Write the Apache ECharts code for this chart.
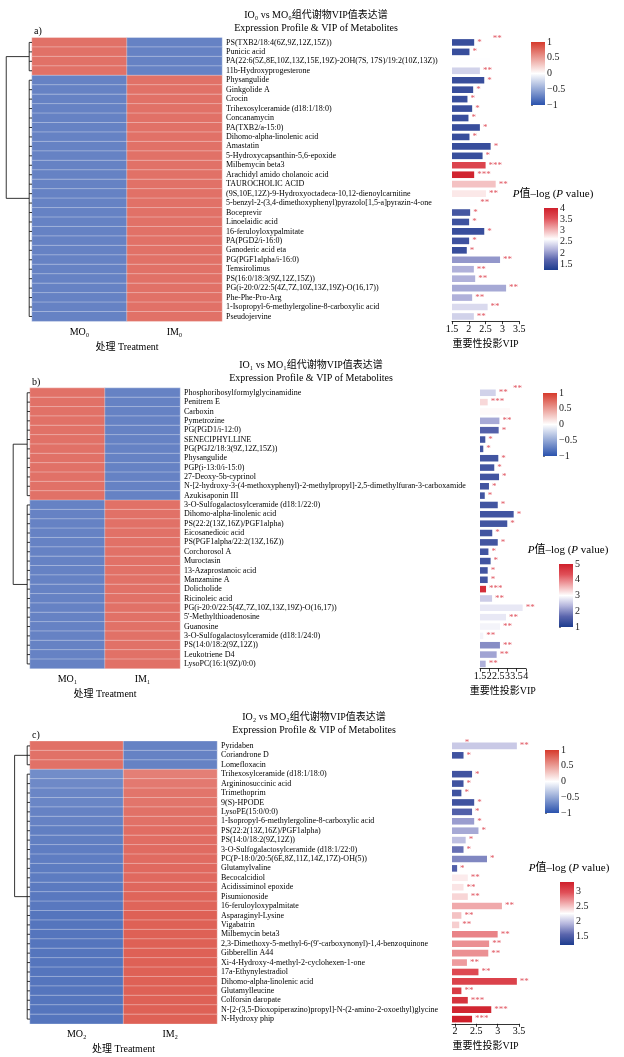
<!DOCTYPE html>
<html><head><meta charset="utf-8">
<script src="https://cdn.jsdelivr.net/npm/echarts@6/dist/echarts.min.js"></script>
<style>html,body{margin:0;padding:0;background:#fff}#c{width:624px;height:1057px}</style>
</head><body><div id="c"></div><script>
// ---------------- DATA ----------------
const colsA = ['MO₀', 'IM₀'];
const colsB = ['MO₁', 'IM₁'];
const colsC = ['MO₂', 'IM₂'];

const namesA = ['PS(TXB2/18:4(6Z,9Z,12Z,15Z))','Punicic acid','PA(22:6(5Z,8E,10Z,13Z,15E,19Z)-2OH(7S, 17S)/19:2(10Z,13Z))','11b-Hydroxyprogesterone','Physangulide','Ginkgolide A','Crocin','Trihexosylceramide (d18:1/18:0)','Concanamycin','PA(TXB2/a-15:0)','Dihomo-alpha-linolenic acid','Amastatin','5-Hydroxycapsanthin-5,6-epoxide','Milbemycin beta3','Arachidyl amido cholanoic acid','TAUROCHOLIC ACID','(9S,10E,12Z)-9-Hydroxyoctadeca-10,12-dienoylcarnitine','5-benzyl-2-(3,4-dimethoxyphenyl)pyrazolo[1,5-a]pyrazin-4-one','Boceprevir','Linoelaidic acid','16-feruloyloxypalmitate','PA(PGD2/i-16:0)','Ganoderic acid eta','PG(PGF1alpha/i-16:0)','Temsirolimus','PS(16:0/18:3(9Z,12Z,15Z))','PG(i-20:0/22:5(4Z,7Z,10Z,13Z,19Z)-O(16,17))','Phe-Phe-Pro-Arg','1-Isopropyl-6-methylergoline-8-carboxylic acid','Pseudojervine'];
const heatMO_A = [0.72,0.72,0.72,0.72,-0.72,-0.72,-0.72,-0.72,-0.72,-0.72,-0.72,-0.72,-0.72,-0.72,-0.72,-0.72,-0.72,-0.72,-0.72,-0.72,-0.72,-0.72,-0.72,-0.72,-0.72,-0.72,-0.72,-0.72,-0.72,-0.72];
const heatIM_A = [-0.72,-0.72,-0.72,-0.72,0.72,0.72,0.72,0.72,0.72,0.72,0.72,0.72,0.72,0.72,0.72,0.72,0.72,0.72,0.72,0.72,0.72,0.72,0.72,0.72,0.72,0.72,0.72,0.72,0.72,0.72];
const vipA = [2.16,2.02,2.62,2.33,2.46,2.13,1.96,2.10,1.99,2.33,2.02,2.65,2.41,2.50,2.16,2.80,2.51,2.25,2.04,2.01,2.46,2.01,1.94,2.93,2.15,2.19,3.11,2.10,2.56,2.15];
const pA   = [1.45,1.45,2.62,2.35,1.45,1.45,1.45,1.45,1.45,1.45,1.45,1.45,1.45,3.65,3.95,2.95,2.75,2.62,1.55,1.5,1.45,1.5,1.45,2.0,2.15,2.15,2.1,2.15,2.4,2.35];
const starsA = ['*','*','**','**','*','*','*','*','*','*','*','*','*','***','***','**','**','**','*','*','*','*','*','**','**','**','**','**','**','**'];
const treeA = [4, 0.92, 0.1, 0.1];

const namesB = ['Phosphoribosylformylglycinamidine','Penitrem E','Carboxin','Pymetrozine','PG(PGD1/i-12:0)','SENECIPHYLLINE','PG(PGJ2/18:3(9Z,12Z,15Z))','Physangulide','PGP(i-13:0/i-15:0)','27-Deoxy-5b-cyprinol','N-[2-hydroxy-3-(4-methoxyphenyl)-2-methylpropyl]-2,5-dimethylfuran-3-carboxamide','Azukisaponin III','3-O-Sulfogalactosylceramide (d18:1/22:0)','Dihomo-alpha-linolenic acid','PS(22:2(13Z,16Z)/PGF1alpha)','Eicosanedioic acid','PS(PGF1alpha/22:2(13Z,16Z))','Corchorosol A','Muroctasin','13-Azaprostanoic acid','Manzamine A','Dolicholide','Ricinoleic acid','PG(i-20:0/22:5(4Z,7Z,10Z,13Z,19Z)-O(16,17))',"5'-Methylthioadenosine",'Guanosine','3-O-Sulfogalactosylceramide (d18:1/24:0)','PS(14:0/18:2(9Z,12Z))','Leukotriene D4','LysoPC(16:1(9Z)/0:0)'];
const heatMO_B = [0.72,0.72,0.72,0.72,0.72,0.72,0.72,0.72,0.72,0.72,0.72,0.72,-0.72,-0.72,-0.72,-0.72,-0.72,-0.72,-0.72,-0.72,-0.72,-0.72,-0.72,-0.72,-0.72,-0.72,-0.72,-0.72,-0.72,-0.72];
const heatIM_B = [-0.72,-0.72,-0.72,-0.72,-0.72,-0.72,-0.72,-0.72,-0.72,-0.72,-0.72,-0.72,0.72,0.72,0.72,0.72,0.72,0.72,0.72,0.72,0.72,0.72,0.72,0.72,0.72,0.72,0.72,0.72,0.72,0.72];
const vipB = [2.36,1.92,3.14,2.56,2.52,1.79,1.68,2.50,2.28,2.54,1.99,1.76,2.47,3.34,2.99,2.17,2.47,1.96,2.08,1.92,1.92,1.83,2.16,3.83,2.92,2.59,1.68,2.59,2.41,1.81];
const pB   = [2.6,3.3,3.05,2.25,1.6,1.4,1.4,1.4,1.4,1.4,1.4,1.4,1.4,1.4,1.4,1.4,1.4,1.4,1.4,1.4,1.4,4.8,2.55,2.8,2.8,2.9,2.9,2.0,2.2,2.3];
const starsB = ['**','***','**','**','*','*','*','*','*','*','*','*','*','*','*','*','*','*','*','*','*','***','**','**','**','**','**','**','**','**'];
const treeB = [12, 0.6, 0.1, 0.1];

const namesC = ['Pyridaben','Coriandrone D','Lomefloxacin','Trihexosylceramide (d18:1/18:0)','Argininosuccinic acid','Trimethoprim','9(S)-HPODE','LysoPE(15:0/0:0)','1-Isopropyl-6-methylergoline-8-carboxylic acid','PS(22:2(13Z,16Z)/PGF1alpha)','PS(14:0/18:2(9Z,12Z))','3-O-Sulfogalactosylceramide (d18:1/22:0)','PC(P-18:0/20:5(6E,8Z,11Z,14Z,17Z)-OH(5))','Glutamylvaline','Becocalcidiol','Acidissiminol epoxide','Pisumionoside','16-feruloyloxypalmitate','Asparaginyl-Lysine','Vigabatrin','Milbemycin beta3',"2,3-Dimethoxy-5-methyl-6-(9'-carboxynonyl)-1,4-benzoquinone",'Gibberellin A44','Xi-4-Hydroxy-4-methyl-2-cyclohexen-1-one','17a-Ethynylestradiol','Dihomo-alpha-linolenic acid','Glutamylleucine','Colforsin daropate','N-[2-(3,5-Dioxopiperazino)propyl]-N-(2-amino-2-oxoethyl)glycine','N-Hydroxy phip'];
const heatMO_C = [0.72,0.72,0.72,-0.66,-0.68,-0.7,-0.7,-0.72,-0.72,-0.74,-0.74,-0.75,-0.75,-0.76,-0.76,-0.77,-0.78,-0.78,-0.8,-0.8,-0.8,-0.8,-0.8,-0.8,-0.8,-0.8,-0.8,-0.8,-0.8,-0.8];
const heatIM_C = [-0.72,-0.72,-0.72,0.65,0.68,0.7,0.7,0.72,0.72,0.74,0.74,0.75,0.75,0.76,0.76,0.77,0.78,0.78,0.8,0.8,0.8,0.8,0.8,0.8,0.8,0.8,0.8,0.8,0.8,0.8];
const vipC = [3.45,2.2,2.16,2.4,2.2,2.15,2.45,2.4,2.45,2.55,2.25,2.2,2.75,2.05,2.3,2.2,2.3,3.1,2.15,2.1,3.0,2.8,2.78,2.28,2.55,3.45,2.15,2.3,2.85,2.4];
const pC   = [2.0,1.4,2.25,1.4,1.4,1.4,1.4,1.5,1.8,1.85,1.95,1.6,1.7,1.5,2.33,2.36,2.42,2.6,2.5,2.45,2.75,2.7,2.7,2.65,3.0,3.05,3.1,3.15,3.25,3.3];
const starsC = ['**','*','*','*','*','*','*','*','*','*','*','*','*','*','**','**','**','**','**','**','**','**','**','**','**','**','**','***','***','***'];
const treeC = [3, 0.55, 0.1, 0.1];

// ---------------- STYLE / LAYOUT ----------------
const FONT = "'Liberation Serif','Times New Roman','Noto Sans CJK SC',serif";
const heatColors = ['#2a52ad', '#ffffff', '#d63a2c'];
const pColors = ['#1d3c8e', '#5a65ad', '#b3b4dc', '#ffffff', '#f0a9ab', '#e05058', '#cf1f2b'];

const option = {animation: false, backgroundColor: '#fff', grid: [], xAxis: [], yAxis: [], series: [], visualMap: [], graphic: []};

function gradRender(colors) {
  return function (params, api) {
    const cs = params.coordSys;
    return {type: 'rect', shape: {x: cs.x, y: cs.y, width: cs.width, height: cs.height},
      style: {fill: new echarts.graphic.LinearGradient(0, 1, 0, 0, colors.map((c, i) => ({offset: i / (colors.length - 1), color: c})))}};
  };
}

function txt(t, x, y, size, align, rich) {
  const st = {text: t, font: size + 'px ' + FONT, fill: '#000', textAlign: align || 'center', textVerticalAlign: 'middle'};
  if (rich) st.rich = rich;
  option.graphic.push({type: 'text', x: x, y: y, style: st});
}

function addColorbar(L, min, max, colors, ticks) {
  const gi = option.grid.length;
  option.grid.push({left: L.x, top: L.y, width: L.w, height: L.h});
  option.xAxis.push({gridIndex: gi, type: 'value', min: 0, max: 1, show: false});
  option.yAxis.push({gridIndex: gi, type: 'value', min: min, max: max, position: 'right',
    axisLine: {show: false}, splitLine: {show: false},
    axisTick: {show: true, length: 2, inside: false, lineStyle: {color: '#555', width: 0.8}, customValues: ticks},
    axisLabel: {fontFamily: FONT, fontSize: 10, color: '#222', margin: 2, customValues: ticks, formatter: v => (v < 0 ? '−' + Math.abs(v) : String(v))}});
  option.series.push({type: 'custom', xAxisIndex: gi, yAxisIndex: gi, data: [[0, min]], renderItem: gradRender(colors), silent: true});
}

function addPanel(P) {
  const n = P.names.length;
  const H = P.rowH * n;
  // heatmap
  let gi = option.grid.length;
  option.grid.push({left: P.heatX, top: P.top, width: P.heatW, height: H});
  option.xAxis.push({gridIndex: gi, type: 'category', data: P.cols, position: 'bottom',
    axisLine: {show: false}, axisTick: {show: false}, splitLine: {show: false},
    axisLabel: {fontFamily: FONT, fontSize: 10, color: '#000', margin: 6},
    name: '处理 Treatment', nameLocation: 'middle', nameGap: 21,
    nameTextStyle: {fontFamily: FONT, fontSize: 10, color: '#000'}});
  option.yAxis.push({gridIndex: gi, type: 'category', data: P.names, inverse: true, position: 'right',
    axisLine: {show: false}, axisTick: {show: false}, splitLine: {show: false},
    axisLabel: {fontFamily: FONT, fontSize: 8, color: '#000', margin: 4, interval: 0}});
  const hd = [];
  for (let i = 0; i < n; i++) { hd.push([0, i, P.mo[i]]); hd.push([1, i, P.im[i]]); }
  let si = option.series.length;
  option.series.push({type: 'heatmap', xAxisIndex: gi, yAxisIndex: gi, data: hd,
    itemStyle: {borderColor: 'rgba(255,255,255,0.55)', borderWidth: 0.6}});
  option.visualMap.push({type: 'continuous', show: false, min: -1, max: 1, seriesIndex: si, dimension: 2, inRange: {color: heatColors}});

  // dendrogram
  gi = option.grid.length;
  option.grid.push({left: P.heatX - P.treeW, top: P.top, width: P.treeW, height: H});
  option.xAxis.push({gridIndex: gi, type: 'value', min: 0, max: 1, inverse: true, show: false});
  option.yAxis.push({gridIndex: gi, type: 'value', min: -0.5, max: n - 0.5, inverse: true, show: false});
  const tr = P.tree;
  option.series.push({type: 'custom', xAxisIndex: gi, yAxisIndex: gi, data: [[0, 0]], silent: true,
    renderItem: function (params, api) {
      const split = tr[0], rootH = tr[1], h1 = tr[2], h2 = tr[3];
      const ch = [];
      const seg = (x1, y1, x2, y2) => {
        const a = api.coord([x1, y1]), b = api.coord([x2, y2]);
        ch.push({type: 'line', shape: {x1: a[0], y1: a[1], x2: b[0], y2: b[1]}, style: {stroke: '#000', lineWidth: 0.8}});
      };
      const clusters = [[0, split - 1, h1], [split, n - 1, h2]];
      const mids = [];
      clusters.forEach(c => {
        for (let i = c[0]; i <= c[1]; i++) seg(0, i, c[2], i);
        seg(c[2], c[0], c[2], c[1]);
        const m = (c[0] + c[1]) / 2; mids.push(m);
        seg(c[2], m, rootH, m);
      });
      seg(rootH, mids[0], rootH, mids[1]);
      return {type: 'group', children: ch};
    }});

  // VIP bars
  gi = option.grid.length;
  option.grid.push({left: P.barX, top: P.top, width: P.barW, height: H});
  option.xAxis.push({gridIndex: gi, type: 'value', min: P.vmin, max: P.vmax,
    axisLine: {show: true, lineStyle: {color: '#000', width: 0.8}},
    axisTick: {show: true, length: 3, lineStyle: {color: '#000', width: 0.8}, customValues: P.vticks},
    splitLine: {show: false},
    axisLabel: {fontFamily: FONT, fontSize: 10, color: '#000', margin: 3, customValues: P.vticks},
    name: '重要性投影VIP', nameLocation: 'middle', nameGap: 18,
    nameTextStyle: {fontFamily: FONT, fontSize: 10, color: '#000'}});
  option.yAxis.push({gridIndex: gi, type: 'category', data: P.names, inverse: true, show: false});
  si = option.series.length;
  option.series.push({type: 'bar', xAxisIndex: gi, yAxisIndex: gi, barWidth: P.rowH * 0.7,
    encode: {x: 0, y: 1},
    data: P.vip.map((v, i) => {
      const item = {value: [v, i, P.p[i]]};
      if (i === 2) item.label = {offset: [0, -P.rowH * 2.4]};
      return item;
    }),
    label: {show: true, position: 'right', distance: 3, formatter: d => P.stars[d.dataIndex],
      color: '#e05560', fontFamily: FONT, fontSize: 9}});
  option.visualMap.push({type: 'continuous', show: false, min: P.pmin, max: P.pmax, seriesIndex: si, dimension: 2, inRange: {color: pColors}});

  // colorbars
  addColorbar(P.hcb, -1, 1, heatColors, [-1, -0.5, 0, 0.5, 1]);
  addColorbar(P.pcb, P.pmin, P.pmax, pColors, P.pticks);
  txt('{i|P}值–log ({i|P} value)', P.pcb.x + P.pcb.w / 2 + 2, P.pcb.y - 14, 11, 'center',
    {i: {fontStyle: 'italic', fontFamily: FONT, fontSize: 11}});

  // titles
  txt(P.title1, P.titleX, P.titleY, 10);
  txt('Expression Profile & VIP of Metabolites', P.titleX, P.titleY + 13, 10);
  txt(P.tag, P.heatX + 2, P.top - 6, 10, 'left');
}

addPanel({names: namesA, cols: colsA, mo: heatMO_A, im: heatIM_A, vip: vipA, p: pA, stars: starsA, tree: treeA,
  top: 37.7, rowH: 9.45, heatX: 32, heatW: 190, treeW: 28, barX: 452, barW: 67.2,
  vmin: 1.5, vmax: 3.5, vticks: [1.5, 2, 2.5, 3, 3.5], pmin: 1.25, pmax: 4, pticks: [1.5, 2, 2.5, 3, 3.5, 4],
  hcb: {x: 531, y: 42, w: 14, h: 63}, pcb: {x: 544, y: 208, w: 14, h: 62},
  title1: 'IO₀ vs MO₀组代谢物VIP值表达谱', titleX: 316, titleY: 15, tag: 'a)'});

addPanel({names: namesB, cols: colsB, mo: heatMO_B, im: heatIM_B, vip: vipB, p: pB, stars: starsB, tree: treeB,
  top: 388.1, rowH: 9.35, heatX: 30, heatW: 150, treeW: 28, barX: 480, barW: 45.75,
  vmin: 1.5, vmax: 4, vticks: [1.5, 2, 2.5, 3, 3.5, 4], pmin: 1, pmax: 5, pticks: [1, 2, 3, 4, 5],
  hcb: {x: 543, y: 393, w: 14, h: 63}, pcb: {x: 559, y: 564, w: 14, h: 63},
  title1: 'IO₁ vs MO₁组代谢物VIP值表达谱', titleX: 311, titleY: 365, tag: 'b)'});

addPanel({names: namesC, cols: colsC, mo: heatMO_C, im: heatIM_C, vip: vipC, p: pC, stars: starsC, tree: treeC,
  top: 741.2, rowH: 9.42, heatX: 30, heatW: 187, treeW: 28, barX: 452, barW: 67,
  vmin: 1.93, vmax: 3.5, vticks: [2, 2.5, 3, 3.5], pmin: 1.2, pmax: 3.3, pticks: [1.5, 2, 2.5, 3],
  hcb: {x: 545, y: 750, w: 14, h: 63}, pcb: {x: 560, y: 882, w: 14, h: 63},
  title1: 'IO₂ vs MO₂组代谢物VIP值表达谱', titleX: 314, titleY: 717, tag: 'c)'});

const chart = echarts.init(document.getElementById('c'), null, {renderer: 'canvas'});
chart.setOption(option);
</script></body></html>
